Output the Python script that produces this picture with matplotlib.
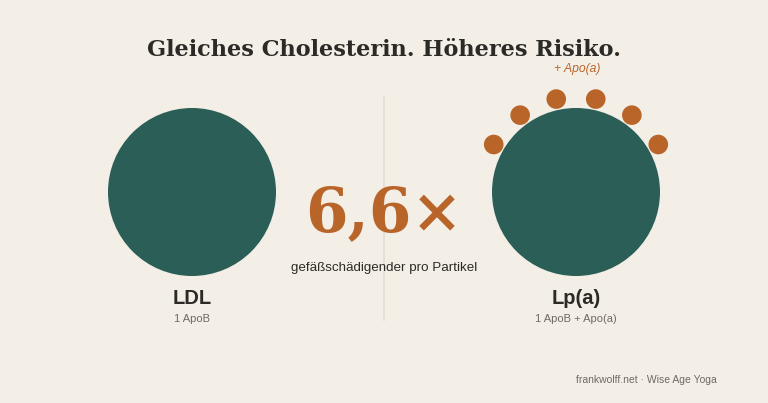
import matplotlib
matplotlib.use("Agg")
import matplotlib.pyplot as plt
from matplotlib.patches import Circle
import numpy as np

# Data
title = "Gleiches Cholesterin. Höheres Risiko."
particles = ["LDL", "Lp(a)"]
particle_desc = ["1 ApoB", "1 ApoB + Apo(a)"]
apo_a_count = [0, 6]
factor_text = "6,6×"
factor_caption = "gefäßschädigender pro Partikel"
apo_label = "+ Apo(a)"
footer = "frankwolff.net · Wise Age Yoga"

BG = "#f3efe6"
TEAL = "#2a5e57"
ORANGE = "#b9652a"
DARK = "#2b2a26"
GRAY = "#6f6b64"
LINE = "#e2ddd2"

W, H = 768, 403
fig = plt.figure(figsize=(W / 100, H / 100), dpi=100, facecolor=BG)
ax = fig.add_axes([0, 0, 1, 1])
ax.set_xlim(0, W)
ax.set_ylim(H, 0)
ax.set_aspect("equal")
ax.axis("off")
ax.set_facecolor(BG)

centers_x = [192, 576]
cy = 192
R = 84

ax.plot([384, 384], [97, 320], color=LINE, lw=1.2, zorder=1)

for i, (cx, name, desc, n) in enumerate(zip(centers_x, particles, particle_desc, apo_a_count)):
    ax.add_patch(Circle((cx, cy), R, color=TEAL, zorder=2, lw=0))
    if n:
        angs = np.deg2rad(np.linspace(30, 150, n))
        for a in angs:
            ax.add_patch(Circle((cx + 95 * np.cos(a), cy - 95 * np.sin(a)), 9.8,
                                color=ORANGE, zorder=3, lw=0))
    ax.text(cx, 298, name, ha="center", va="center", fontsize=14.5, fontweight="bold",
            color=DARK, family="Liberation Sans")
    ax.text(cx, 319, desc, ha="center", va="center", fontsize=8, color=GRAY,
            family="Liberation Sans")

ax.text(384, 50, title, ha="center", va="center", fontsize=16.1, fontweight="bold",
        color=DARK, family="DejaVu Serif")
ax.text(577, 69, apo_label, ha="center", va="center", fontsize=8.7, style="italic",
        color=ORANGE, family="Liberation Sans")
ax.text(384, 214, factor_text, ha="center", va="center", fontsize=44, fontweight="bold",
        color=ORANGE, family="DejaVu Serif")
ax.text(384, 268, factor_caption, ha="center", va="center", fontsize=9.6, color=DARK,
        family="Liberation Sans")
ax.text(717, 380, footer, ha="right", va="center", fontsize=7.5, color=GRAY,
        family="Liberation Sans")

fig.savefig("out.png", dpi=100, facecolor=BG)
